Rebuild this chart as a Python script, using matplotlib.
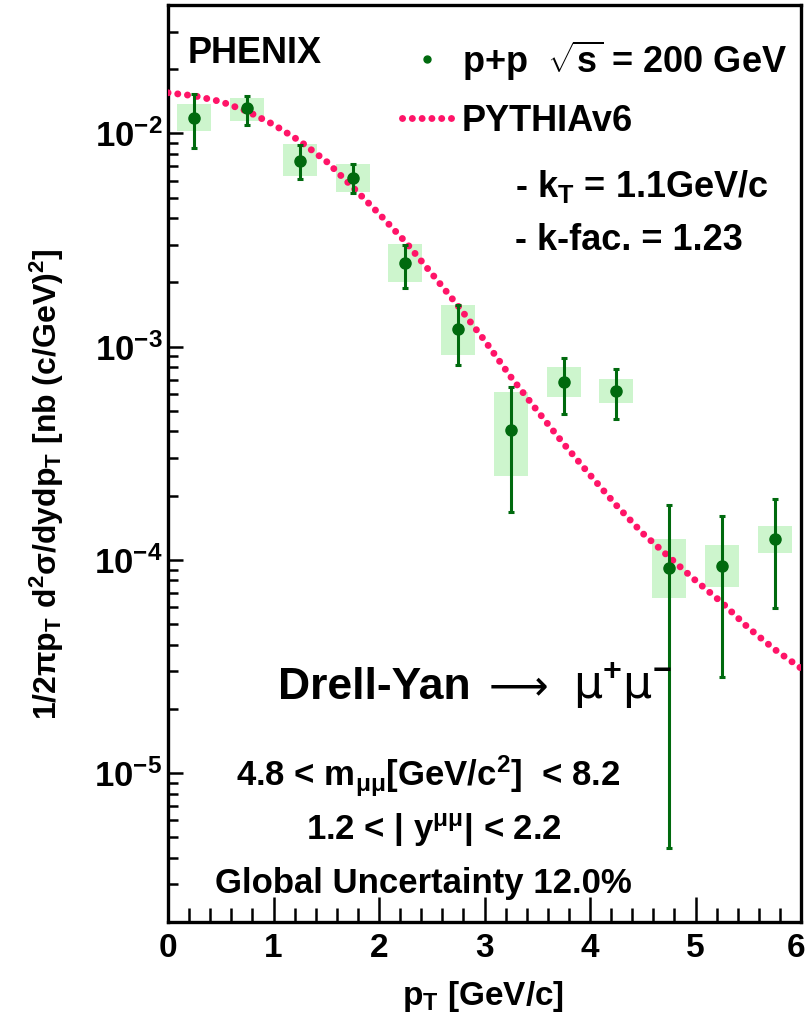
import matplotlib
matplotlib.use('Agg')
import matplotlib.pyplot as plt
from matplotlib.patches import Rectangle
from matplotlib.lines import Line2D
from matplotlib.ticker import FixedLocator, MultipleLocator
from matplotlib.transforms import ScaledTranslation

plt.rcParams['font.family'] = ['Liberation Sans', 'DejaVu Sans']
plt.rcParams['font.weight'] = 'bold'
plt.rcParams['mathtext.fontset'] = 'custom'
plt.rcParams['mathtext.rm'] = 'Liberation Sans:bold'
plt.rcParams['mathtext.bf'] = 'Liberation Sans:bold'
plt.rcParams['mathtext.it'] = 'Liberation Sans:bold'
plt.rcParams['mathtext.default'] = 'rm'

# ---------------- data ----------------
pt_centers = [0.25, 0.75, 1.25, 1.75, 2.25, 2.75, 3.25, 3.75, 4.25, 4.75, 5.25, 5.75]
yield_vals = [0.01185, 0.01309, 0.00741, 0.00620, 0.00247, 0.00121,
              0.000404, 0.000681, 0.000621, 9.14e-5, 9.3e-5, 1.25e-4]
stat_high = [0.01525, 0.01496, 0.00881, 0.00715, 0.00301, 0.00157,
             0.000647, 0.000885, 0.000785, 0.000180, 0.000160, 0.000193]
stat_low = [0.00857, 0.01094, 0.00608, 0.00527, 0.00189, 0.000822,
            0.000167, 0.000484, 0.000457, 4.43e-6, 2.83e-5, 5.97e-5]
sys_high = [0.01368, 0.01472, 0.00888, 0.00721, 0.00304, 0.00157,
            0.000611, 0.000800, 0.000705, 0.000125, 0.000117, 0.000144]
sys_low = [0.01026, 0.01143, 0.00631, 0.00530, 0.00201, 0.000916,
           0.000248, 0.000581, 0.000544, 6.6e-5, 7.45e-5, 1.08e-4]

pythia_pt = [0.0, 0.25, 0.5, 0.75, 1.0, 1.25, 1.5, 1.75, 2.0, 2.25, 2.5, 2.75, 3.0,
             3.25, 3.5, 3.75, 4.0, 4.25, 4.5, 4.75, 5.0, 5.25, 5.5, 5.75, 6.0]
pythia_vals = [0.0155, 0.0150, 0.0141, 0.0127, 0.0110, 0.0092, 0.0074, 0.0056, 0.0042,
               0.0031, 0.0022, 0.00155, 0.00107, 0.00072, 0.00050, 0.00035, 0.00025,
               0.000180, 0.000133, 0.000103, 0.000080, 0.000063, 0.000048, 0.000038, 0.000031]

ytick_vals = [1e-5, 1e-4, 1e-3, 1e-2]
ytick_labels = [r'$10^{-5}$', r'$10^{-4}$', r'$10^{-3}$', r'$10^{-2}$']
xtick_vals = [0, 1, 2, 3, 4, 5, 6]
xtick_labels = ['0', '1', '2', '3', '4', '5', '6']

# ---------------- style ----------------
W, H = 808, 1017
GREEN = '#006a0e'
BOXC = '#cdf5cd'
PINK = '#ff1468'
box_half = 0.16


def fx(x):
    return x / W


def fy(y):
    return 1 - y / H


fig = plt.figure(figsize=(W / 100, H / 100), dpi=100)
ax = fig.add_axes([fx(168), fy(922), (801 - 168) / W, (922 - 5) / H])
ax.set_yscale('log')
ax.set_xlim(0, 6)
ax.set_ylim(2e-6, 0.04)

# systematic boxes
for x, lo, hi in zip(pt_centers, sys_low, sys_high):
    ax.add_patch(Rectangle((x - box_half, lo), 2 * box_half, hi - lo,
                           facecolor=BOXC, edgecolor='none', zorder=1))

# PYTHIA curve
ax.plot(pythia_pt, pythia_vals, color=PINK, lw=5, linestyle=(0, (0.01, 1.4)),
        dash_capstyle='round', zorder=3)

# data points with stat errors
yerr = [[v - l for v, l in zip(yield_vals, stat_low)],
        [h - v for v, h in zip(yield_vals, stat_high)]]
ax.errorbar(pt_centers, yield_vals, yerr=yerr, fmt='o', color=GREEN, ms=8,
            elinewidth=2.2, capsize=2.2, capthick=2.2, zorder=4)

# ticks
ax.yaxis.set_major_locator(FixedLocator(ytick_vals))
ax.set_yticklabels(ytick_labels)
ax.xaxis.set_major_locator(FixedLocator(xtick_vals))
ax.set_xticklabels(xtick_labels)
ax.xaxis.set_minor_locator(MultipleLocator(0.2))
ax.tick_params(axis='y', which='major', direction='in', length=11, width=1.8,
               labelsize=25, pad=4, right=False)
ax.tick_params(axis='y', which='minor', direction='in', length=7, width=1.8, right=False)
ax.tick_params(axis='x', which='major', direction='in', length=18, width=1.8,
               labelsize=24, pad=8, top=False)
ax.tick_params(axis='x', which='minor', direction='in', length=10, width=1.8, top=False)
for s in ax.spines.values():
    s.set_linewidth(2.4)

# keep last x tick label inside the canvas
last = ax.get_xticklabels()[-1]
last.set_transform(last.get_transform() + ScaledTranslation(-0.05, 0, fig.dpi_scale_trans))

# ---------------- texts ----------------
fs = 26
fig.text(fx(188), fy(63), 'PHENIX', fontsize=fs, va='baseline')
fig.add_artist(Line2D([fx(427)], [fy(59)], marker='o', color=GREEN, ms=5))
fig.text(fx(462), fy(73), r'p+p  $\sqrt{s}$ = 200 GeV', fontsize=fs, va='baseline')
fig.add_artist(Line2D([fx(402), fx(452)], [fy(118), fy(118)], color=PINK, lw=5,
                      linestyle=(0, (0.01, 1.4)), dash_capstyle='round'))
fig.text(fx(462), fy(131), 'PYTHIAv6', fontsize=fs, va='baseline')
fig.text(fx(515), fy(197), r'- k$_{T}$ = 1.1GeV/c', fontsize=fs, va='baseline')
fig.text(fx(515), fy(250), '- k-fac. = 1.23', fontsize=fs, va='baseline')

fig.text(fx(278), fy(699), 'Drell-Yan', fontsize=32, va='baseline')
fig.text(fx(489), fy(699), '\u27f6', fontsize=30, va='baseline',
         family='DejaVu Sans', fontweight='normal')
fig.text(fx(573), fy(699), 'μ$^{+}$μ$^{-}$', fontsize=33, va='baseline',
         family='DejaVu Sans', fontweight='normal')

fig.text(fx(236), fy(786), r'4.8 < m$_{μμ}$[GeV/c$^{2}$]  < 8.2', fontsize=25, va='baseline')
fig.text(fx(306), fy(840), r'1.2 < | y$^{μμ}$| < 2.2', fontsize=25, va='baseline')
fig.text(fx(215), fy(893), 'Global Uncertainty 12.0%', fontsize=25, va='baseline')

fig.text(fx(402), fy(1005), r'p$_{T}$ [GeV/c]', fontsize=24, va='baseline')
fig.text(fx(47), fy(484), r'1/2πp$_{T}$ d$^{2}$σ/dydp$_{T}$ [nb (c/GeV)$^{2}$]',
         fontsize=23, rotation=90, ha='center', va='center')

fig.savefig('out.png', dpi=100)
